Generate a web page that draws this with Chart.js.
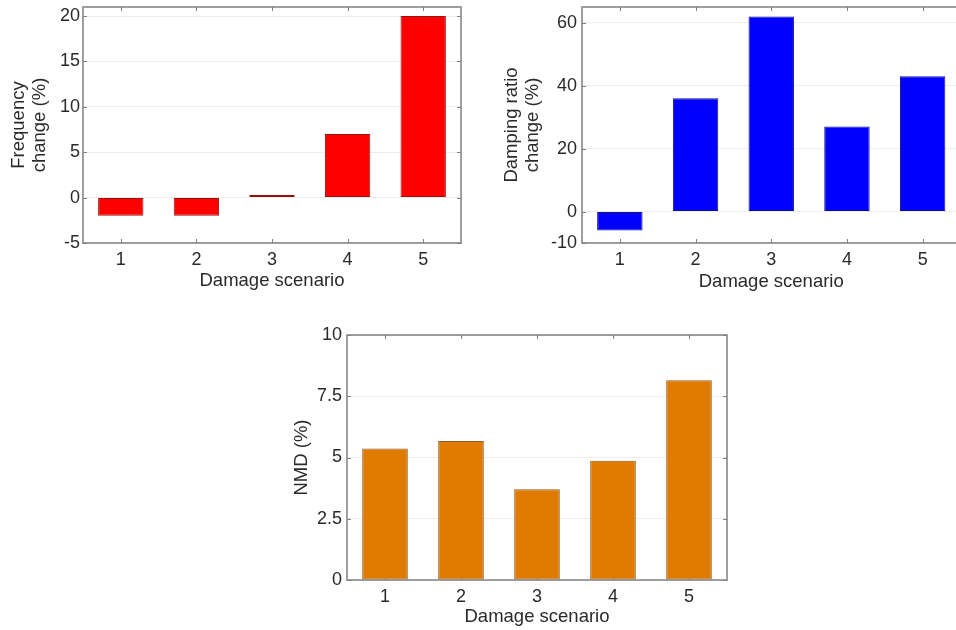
<!DOCTYPE html>
<html>
<head>
<meta charset="utf-8">
<script src="https://cdn.jsdelivr.net/npm/chart.js@4.4.1/dist/chart.umd.min.js"></script>
<style>
  html, body { margin: 0; padding: 0; background: #fff; overflow: hidden; width: 956px; height: 630px; }
  .box { position: absolute; }
</style>
</head>
<body>
<div class="box" style="left:0px;top:0px;width:470px;height:300px"><canvas id="freq"></canvas></div>
<div class="box" style="left:480px;top:0px;width:484px;height:300px"><canvas id="damp"></canvas></div>
<div class="box" style="left:270px;top:320px;width:470px;height:310px"><canvas id="nmd"></canvas></div>
<script>
// Data
const scenarios = ['1', '2', '3', '4', '5'];
const freqChange = [-2, -2, 0.3, 7, 20];
const dampChange = [-6, 36, 62, 27, 43];
const nmdValues = [5.37, 5.67, 3.7, 4.87, 8.15];
const freqTicks = [-5, 0, 5, 10, 15, 20];
const dampTicks = [-10, 0, 20, 40, 60];
const nmdTicks = [0, 2.5, 5, 7.5, 10];

const FONT = "'Liberation Sans', Arial, sans-serif";
const TEXT = '#2a2a2a';
const EDGE = '#808080';

// tick marks inside the axes box + the box itself (matlab style)
const boxPlugin = {
    id: 'box',
    beforeDatasetsDraw(chart) {
        const {ctx, chartArea: a, scales: {x, y}} = chart;
        ctx.save();
        ctx.strokeStyle = EDGE;
        ctx.lineWidth = 1;
        ctx.beginPath();
        x.ticks.forEach((t, i) => {
            const px = Math.round(x.getPixelForTick(i)) + 0.5;
            ctx.moveTo(px, a.bottom); ctx.lineTo(px, a.bottom - 4);
            ctx.moveTo(px, a.top); ctx.lineTo(px, a.top + 4);
        });
        y.ticks.forEach((t, i) => {
            const py = Math.round(y.getPixelForTick(i)) + 0.5;
            ctx.moveTo(a.left, py); ctx.lineTo(a.left + 4, py);
            ctx.moveTo(a.right, py); ctx.lineTo(a.right - 4, py);
        });
        ctx.stroke();
        ctx.restore();
    },
    afterDraw(chart) {
        const {ctx, chartArea: a} = chart;
        ctx.save();
        ctx.strokeStyle = EDGE;
        ctx.lineWidth = 1.5;
        ctx.strokeRect(a.left, a.top, a.right - a.left, a.bottom - a.top);
        ctx.restore();
    }
};

// cfg: area = wanted chart area in canvas px, W/H = canvas size
function makeChart(id, values, ticks, yMin, yMax, title, fill, border, cfg) {
    const padBottom = cfg.H - cfg.titleY - 10.6;
    return new Chart(document.getElementById(id), {
        type: 'bar',
        data: {
            labels: scenarios,
            datasets: [{
                data: values,
                backgroundColor: fill,
                borderColor: border,
                borderWidth: 1,
                borderSkipped: false,
                categoryPercentage: 1,
                barPercentage: 0.6
            }]
        },
        options: {
            responsive: true,
            maintainAspectRatio: false,
            animation: false,
            layout: {
                padding: { left: 0, top: cfg.area.top, right: cfg.W - cfg.area.right, bottom: padBottom }
            },
            plugins: { legend: { display: false }, tooltip: { enabled: false } },
            scales: {
                x: {
                    offset: true,
                    grid: { display: false, drawTicks: false },
                    border: { display: false },
                    ticks: { color: TEXT, font: { family: FONT, size: 18 }, padding: 6, maxRotation: 0 },
                    title: { display: true, text: 'Damage scenario', color: TEXT, font: { family: FONT, size: 18.5, lineHeight: 1.15 }, padding: { top: 0, bottom: 0 } },
                    afterFit: (s) => {
                        s.height = cfg.H - padBottom - cfg.area.bottom;
                        s.paddingLeft = 0; s.paddingRight = 0;
                    }
                },
                y: {
                    min: yMin,
                    max: yMax,
                    afterBuildTicks: (s) => { s.ticks = ticks.map(v => ({ value: v })); },
                    grid: { color: '#ececec', lineWidth: 1, drawTicks: false },
                    border: { display: false },
                    ticks: { color: TEXT, font: { family: FONT, size: 18 }, padding: cfg.tickPad },
                    title: { display: true, text: title, color: TEXT, font: { family: FONT, size: 18.5, lineHeight: 1.15 }, padding: { top: cfg.titlePad, bottom: 0 } },
                    afterFit: (s) => {
                        s.width = cfg.area.left;
                        s.paddingTop = 0; s.paddingBottom = 0;
                    }
                }
            }
        },
        plugins: [boxPlugin]
    });
}

makeChart('freq', freqChange, freqTicks, -5, 21, ['Frequency', 'change (%)'], '#ff0000', '#9a1010',
    { W: 470, H: 300, area: { left: 83, top: 7, right: 461, bottom: 243 }, titleY: 281, tickPad: 3, titlePad: 8.4 });

makeChart('damp', dampChange, dampTicks, -10, 65, ['Damping ratio', 'change (%)'], '#0000ff', '#10108a',
    { W: 484, H: 300, area: { left: 102, top: 7, right: 480.5, bottom: 243 }, titleY: 282, tickPad: 5, titlePad: 21.4 });

makeChart('nmd', nmdValues, nmdTicks, 0, 10, 'NMD (%)', '#e07b00', '#8a5a2a',
    { W: 470, H: 310, area: { left: 77, top: 15, right: 457, bottom: 260 }, titleY: 297, tickPad: 5, titlePad: 21.4 });
</script>
</body>
</html>
